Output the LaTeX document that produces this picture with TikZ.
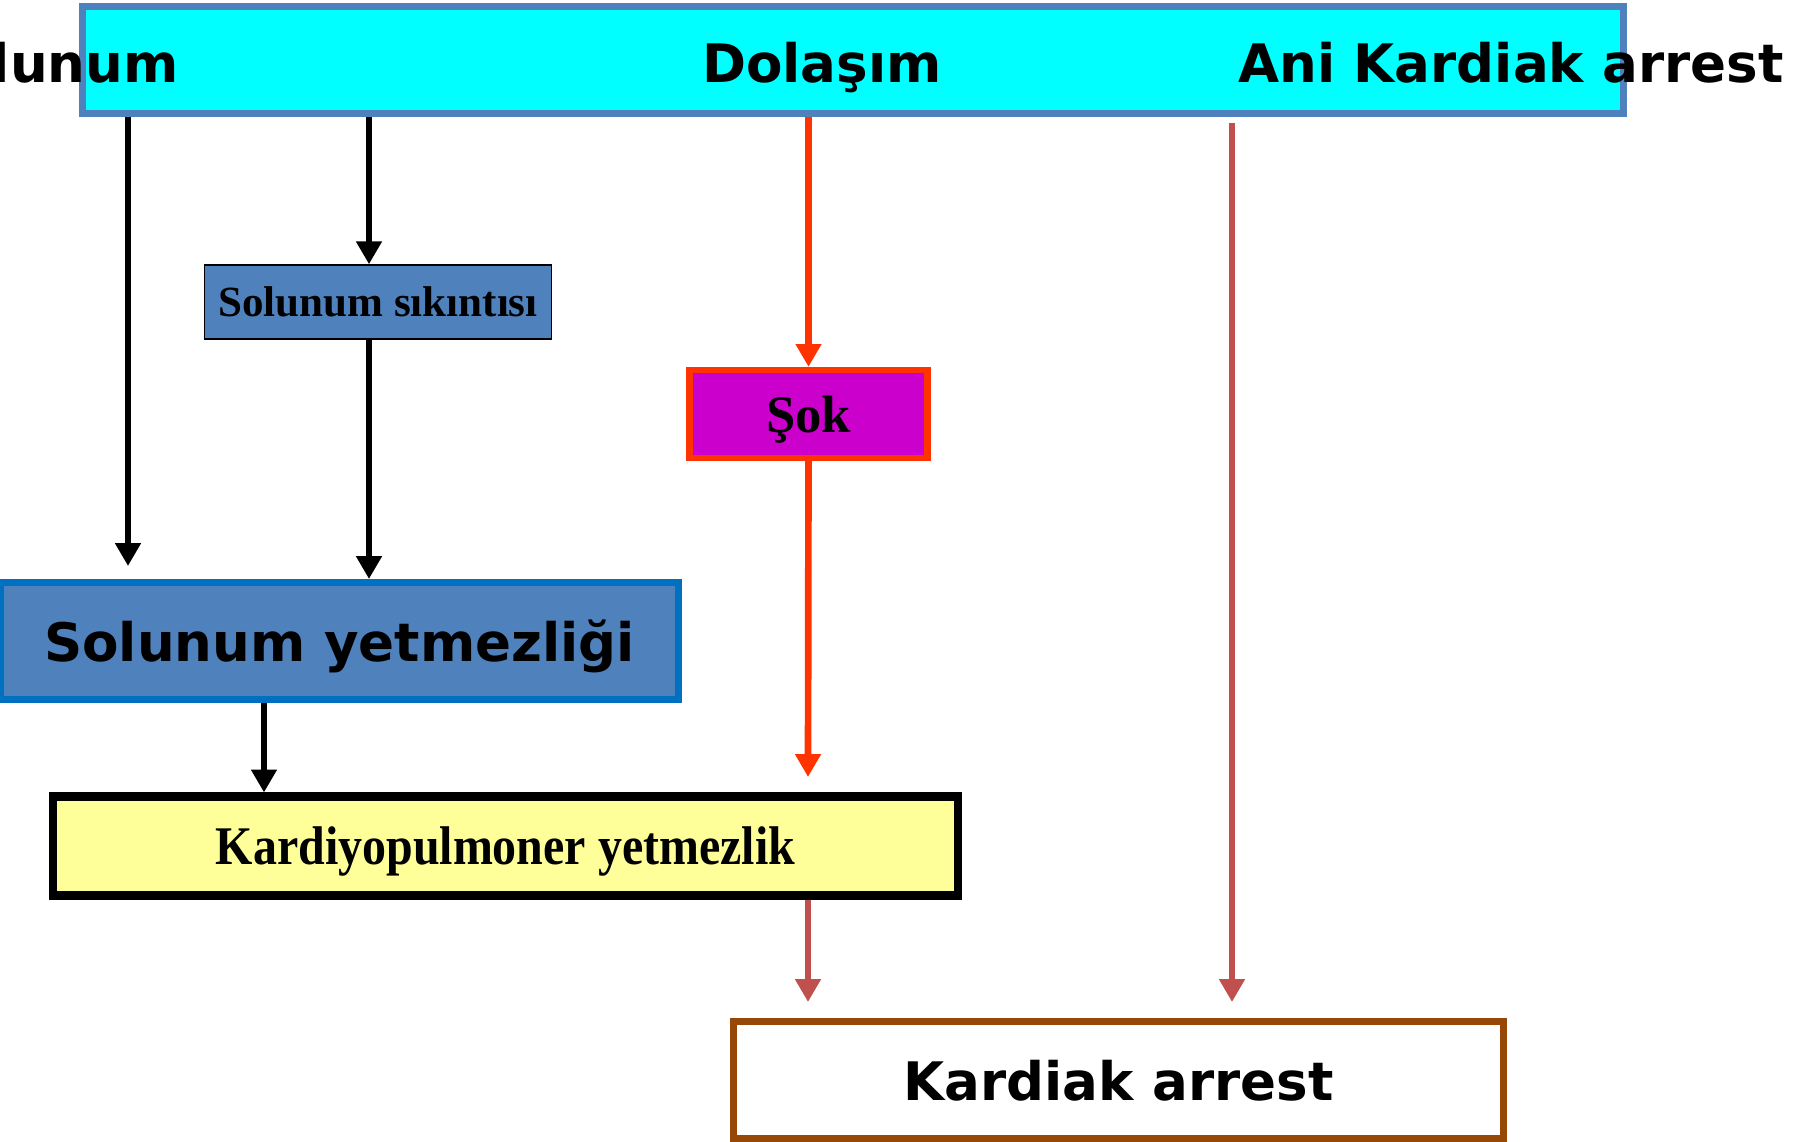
\documentclass[tikz,border=0pt]{standalone}
\usepackage{fontspec}
\usetikzlibrary{arrows.meta}
\newfontfamily\dvsans{DejaVu Sans}
\newfontfamily\tnr{Liberation Serif}
\newfontfamily\tnrnarrow[FakeStretch=0.88]{Liberation Serif}

\definecolor{topfill}{HTML}{00FFFF}
\definecolor{topline}{HTML}{4F81BD}
\definecolor{steelfill}{HTML}{4F81BD}
\definecolor{blueline}{HTML}{0070C0}
\definecolor{sokfill}{HTML}{CC00CC}
\definecolor{sokline}{HTML}{FF3300}
\definecolor{kpfill}{HTML}{FFFF99}
\definecolor{arrestline}{HTML}{C0504D}
\definecolor{brownline}{HTML}{974806}

\tikzset{
  bigtext/.style={font=\dvsans\bfseries\fontsize{30.2pt}{36pt}\selectfont},
  flowbox/.style={inner sep=0,text depth=0pt},
  flowarrow/.style={line width=3.8pt,-{Triangle[length=13pt,width=14pt]}},
}

\begin{document}
\begin{tikzpicture}[x=0.02cm,y=-0.02cm]

\useasboundingbox (0,0) rectangle (1810,1142);

%top band with the three headings
\node[draw=topline,fill=topfill,line width=4pt,minimum width=30.82cm,minimum height=2.14cm,inner sep=0] (top) at (853,60) {};
\node[bigtext,anchor=base] (solunum) at (48,83) {Solunum};
\node[bigtext,anchor=base] (dolasim) at (822,83) {Dolaşım};
\node[bigtext,anchor=base] (ani) at (1511,83) {Ani Kardiak arrest};

%boxes
\node[flowbox,draw=black,fill=steelfill,line width=0.85pt,minimum width=6.94cm,minimum height=1.48cm,
      font=\tnr\bfseries\fontsize{24.5pt}{29pt}\selectfont] (sikinti) at (378,302) {Solunum sıkıntısı};
\node[flowbox,draw=sokline,fill=sokfill,line width=3.6pt,minimum width=4.76cm,minimum height=1.76cm,
      font=\tnr\bfseries\fontsize{30pt}{36pt}\selectfont] (sok) at (808.5,414) {Şok};
\node[flowbox,draw=blueline,fill=steelfill,line width=4pt,minimum width=13.56cm,minimum height=2.34cm,bigtext] (yetmez) at (339.5,641) {Solunum yetmezliği};
\node[flowbox,draw=black,fill=kpfill,line width=4.6pt,minimum width=18.1cm,minimum height=1.98cm,
      font=\tnrnarrow\bfseries\fontsize{31pt}{36pt}\selectfont] (kardiyo) at (505.5,846) {Kardiyopulmoner yetmezlik};
\node[flowbox,draw=brownline,fill=white,line width=4pt,minimum width=15.4cm,minimum height=2.34cm,bigtext] (arrest) at (1118.5,1080) {Kardiak arrest};

%free ends
\coordinate (resp) at (128,566);
\coordinate (shockend) at (808,777);
\coordinate (anistart) at (1232,123);
\coordinate (aniend) at (1232,1002);
\coordinate (kpend) at (808,1002);

%solunum side
\draw[flowarrow] (top.south -| resp) -- (resp);
\draw[flowarrow] (top.south -| 369,0) -- (sikinti.north -| 369,0);
\draw[flowarrow] (sikinti.south -| 369,0) -- (yetmez.north -| 369,0);
\draw[flowarrow] (yetmez.south -| 264,0) -- (kardiyo.north -| 264,0);

%dolasim side
\draw[flowarrow,color=sokline] (top.south -| sok) -- (sok.north);
\draw[flowarrow,color=sokline] (sok.south) -- (shockend);

%to kardiak arrest
\draw[flowarrow,color=arrestline] (kardiyo.south -| kpend) -- (kpend);
\draw[flowarrow,color=arrestline] (anistart) -- (aniend);

\end{tikzpicture}
\end{document}
